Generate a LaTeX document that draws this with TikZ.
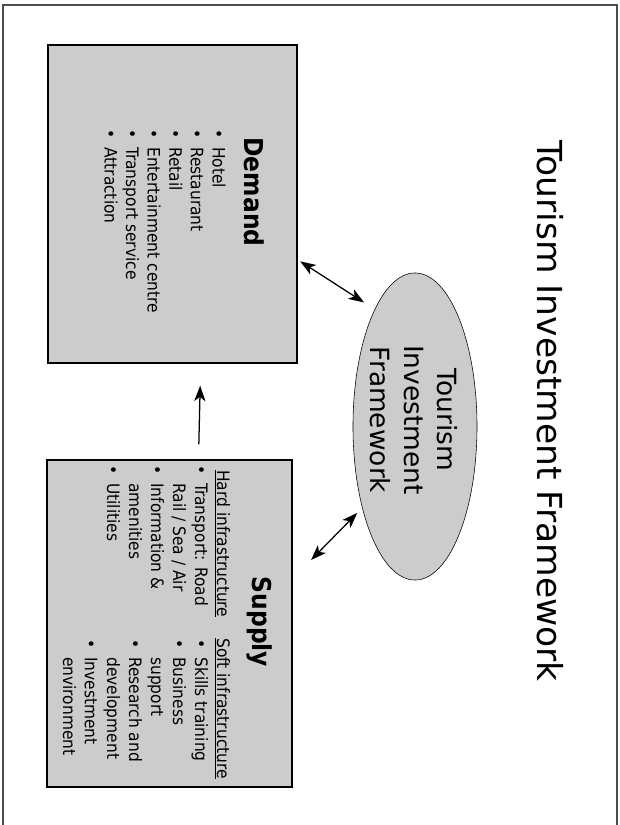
\documentclass[tikz,border=0pt]{standalone}
\usepackage{fontspec}
\setmainfont{DejaVu Sans}
\newfontfamily\boxfont{DejaVu Sans Condensed}
\usetikzlibrary{arrows.meta,shapes.geometric}

\newcommand\bul{\llap{\textbullet\hspace{6pt}}}

\tikzset{
  slidebox/.style={draw=black, line width=1.2pt, fill=gray!40, inner sep=0pt},
  boxtitle/.style={font=\boxfont\bfseries\fontsize{18.5}{22}\selectfont},
  listtext/.style={anchor=base west, inner sep=0pt, font=\boxfont\fontsize{12.2}{15}\selectfont},
  tip/.tip={Stealth[length=11pt,width=8pt,inset=3pt]},
  link/.style={tip-tip, line width=0.9pt},
}

\begin{document}
\begin{tikzpicture}[x=0.025cm,y=0.025cm,rotate=-90,transform shape]
\useasboundingbox (0,0) rectangle (825,620);
% frame of the slide
\draw[black!70, line width=0.8pt] (825,3) -- (5,3) -- (5,617) -- (825,617);

\node (ttl) at (411,550) {\fontsize{24.5}{29}\selectfont Tourism Investment Framework};

\node[slidebox, minimum width=7.95cm, minimum height=6.225cm] (demand) at (204,172.5) {};
\node[slidebox, minimum width=8.175cm, minimum height=6.125cm] (supply) at (623.5,169.5) {};
\node[ellipse, draw=black, fill=gray!40, minimum width=7.675cm, minimum height=3.1cm, inner sep=0pt] (ell) at (426.5,415) {};
\node[align=center, font=\fontsize{18.8}{24}\selectfont] (elltext) at (420,414) {Tourism\\Investment\\Framework};

\node[boxtitle] (dmdttl) at (192,254) {Demand};
\node[boxtitle] (supttl) at (622,260) {Supply};

% demand side
\foreach \txt [count=\i from 0] in {{\bul Hotel},{\bul Restaurant},{\bul Retail},{\bul Entertainment centre},{\bul Transport service},{\bul Attraction}}
  \node[listtext] (dmd\i) at (147,{212.5-21.6*\i}) {\txt};

% supply side, two columns
\node[listtext] (hard) at (470,217) {\underline{Hard infrastructure}};
\node[listtext] (soft) at (638,217) {\underline{Soft infrastructure}};
\foreach \txt [count=\i] in {{\bul Transport: Road},{Rail / Sea / Air},{\bul Information \&},{amenities},{\bul Utilities}}
  \node[listtext] (hard\i) at (483,{217-22*\i}) {\txt};
\foreach \txt [count=\i] in {{\bul Skills training},{\bul Business},{support},{\bul Research and},{development},{\bul Investment},{environment}}
  \node[listtext] (soft\i) at (657,{217-22*\i}) {\txt};

\draw[link, shorten <=2pt, shorten >=9pt] (demand.66) -- (ell.199);
\draw[link, shorten <=18.5pt, shorten >=5pt] (supply.110) -- (ell.327);
\draw[-tip, line width=0.9pt, shorten <=10.5pt, shorten >=15.5pt] (supply.170) -- (demand.10);
\end{tikzpicture}
\end{document}
